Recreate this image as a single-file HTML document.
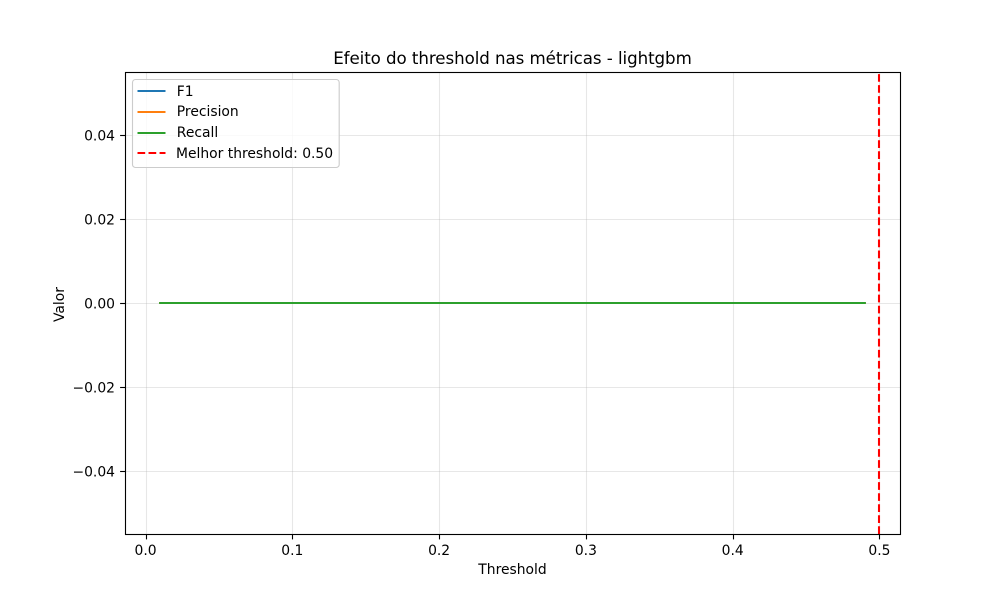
<!DOCTYPE html>
<html lang="pt">
<head>
<meta charset="utf-8">
<title>Efeito do threshold nas métricas - lightgbm</title>
<style>
  html, body { margin: 0; padding: 0; background: #fff; }
  svg { display: block; }
  text { font-family: "DejaVu Sans", "Liberation Sans", sans-serif; fill: #000; }
</style>
</head>
<body>
<svg id="chart" xmlns="http://www.w3.org/2000/svg" width="1000" height="600" viewBox="0 0 1000 600">
  <rect x="0" y="0" width="1000" height="600" fill="#fff"/>
  <g id="grid"></g>
  <g id="series"></g>
  <g id="ticks"></g>
  <rect x="125.5" y="72.5" width="775" height="462" fill="none" stroke="#000" stroke-width="1.11"/>
  <text x="333.2" y="64" textLength="358.6" lengthAdjust="spacing" font-size="16.67">Efeito do threshold nas métricas - lightgbm</text>
  <text x="512.5" y="574" text-anchor="middle" font-size="13.89">Threshold</text>
  <text x="0" y="0" transform="translate(64 304.5) rotate(-90)" text-anchor="middle" font-size="13.89">Valor</text>
  <g id="legend">
    <rect x="132.5" y="79.5" width="206.7" height="88" rx="3" ry="3" fill="#fff" fill-opacity="0.8" stroke="#ccc" stroke-width="1.11"/>
    <g>
      <line x1="137.5" x2="165.5" y1="91" y2="91" stroke="#1f77b4" stroke-width="2.08"/>
      <text x="176.8" y="96" font-size="13.89">F1</text>
    </g>
    <g>
      <line x1="137.5" x2="165.5" y1="112" y2="112" stroke="#ff7f0e" stroke-width="2.08"/>
      <text x="176.8" y="116" font-size="13.89">Precision</text>
    </g>
    <g>
      <line x1="137.5" x2="165.5" y1="133" y2="133" stroke="#2ca02c" stroke-width="2.08"/>
      <text x="176.8" y="137" font-size="13.89">Recall</text>
    </g>
    <g>
      <line x1="137.5" x2="165.5" y1="153" y2="153" stroke="#f00" stroke-width="2.08" stroke-dasharray="7.7 3.33"/>
      <text x="176" y="158" font-size="13.89">Melhor threshold: 0.50</text>
    </g>
  </g>
</svg>
<script>
const thresholds = [0.01, 0.05, 0.09, 0.13, 0.17, 0.21, 0.25, 0.29, 0.33, 0.37, 0.41, 0.45, 0.49];
const f1Values = [0, 0, 0, 0, 0, 0, 0, 0, 0, 0, 0, 0, 0];
const precisionValues = [0, 0, 0, 0, 0, 0, 0, 0, 0, 0, 0, 0, 0];
const recallValues = [0, 0, 0, 0, 0, 0, 0, 0, 0, 0, 0, 0, 0];
const bestThreshold = 0.5;
const xTickValues = [0, 0.1, 0.2, 0.3, 0.4, 0.5];
const xTickLabels = ['0.0', '0.1', '0.2', '0.3', '0.4', '0.5'];
const yTickValues = [-0.04, -0.02, 0, 0.02, 0.04];
const yTickLabels = ['\u22120.04', '\u22120.02', '0.00', '0.02', '0.04'];

const NS = 'http://www.w3.org/2000/svg';
const plot = { left: 125, right: 900, top: 72, bottom: 534 };
const xDomain = [-0.014, 0.514];
const yDomain = [-0.055, 0.055];

function xScale(v) {
  return plot.left + (v - xDomain[0]) / (xDomain[1] - xDomain[0]) * (plot.right - plot.left);
}
function yScale(v) {
  return plot.bottom - (v - yDomain[0]) / (yDomain[1] - yDomain[0]) * (plot.bottom - plot.top);
}
function snap(v) {
  return Math.round(v) + 0.5;
}
function make(tag, attrs, parent) {
  const el = document.createElementNS(NS, tag);
  for (const k in attrs) el.setAttribute(k, attrs[k]);
  parent.appendChild(el);
  return el;
}

const gridGroup = document.getElementById('grid');
const tickGroup = document.getElementById('ticks');
const seriesGroup = document.getElementById('series');

xTickValues.forEach(function (v, i) {
  const x = snap(xScale(v));
  const grid = make('line', { x1: x, x2: x, y1: plot.top, y2: plot.bottom, stroke: '#b0b0b0', 'stroke-opacity': 0.3, 'stroke-width': 1.11 }, gridGroup);
  
  
  const tick = make('line', { x1: x, x2: x, y1: plot.bottom, y2: plot.bottom + 5.4, stroke: '#000', 'stroke-width': 1.11 }, tickGroup);
  
  
  const label = make('text', { x: xScale(v), y: 555, 'text-anchor': 'middle', 'font-size': 13.89 }, tickGroup);
  
  
  label.textContent = xTickLabels[i];
});

yTickValues.forEach(function (v, i) {
  const y = snap(yScale(v)) - 0.5;
  const grid = make('line', { x1: plot.left, x2: plot.right, y1: y + 0.5, y2: y + 0.5, stroke: '#b0b0b0', 'stroke-opacity': 0.3, 'stroke-width': 1.11 }, gridGroup);
  
  
  const tick = make('line', { x1: plot.left - 4.9, x2: plot.left, y1: y + 0.5, y2: y + 0.5, stroke: '#000', 'stroke-width': 1.11 }, tickGroup);
  
  
  const label = make('text', { x: 115, y: y + 5.5, 'text-anchor': 'end', 'font-size': 13.89 }, tickGroup);
  
  
  label.textContent = yTickLabels[i];
});

function drawSeries(values, color, name) {
  const pts = values.map(function (v, i) {
    return xScale(thresholds[i]).toFixed(2) + ',' + yScale(v).toFixed(2);
  }).join(' ');
  const line = make('polyline', { points: pts, fill: 'none', stroke: color, 'stroke-width': 2.08, 'stroke-linecap': 'square', 'stroke-linejoin': 'round' }, seriesGroup);
  
  
}
drawSeries(f1Values, '#1f77b4', 'series-f1');
drawSeries(precisionValues, '#ff7f0e', 'series-precision');
drawSeries(recallValues, '#2ca02c', 'series-recall');

const bestX = Math.floor(xScale(bestThreshold));
const bestLine = make('line', { x1: bestX, x2: bestX, y1: plot.bottom, y2: plot.top, stroke: '#f00', 'stroke-width': 2.08, 'stroke-dasharray': '7.7 3.33' }, seriesGroup);


</script>
</body>
</html>
